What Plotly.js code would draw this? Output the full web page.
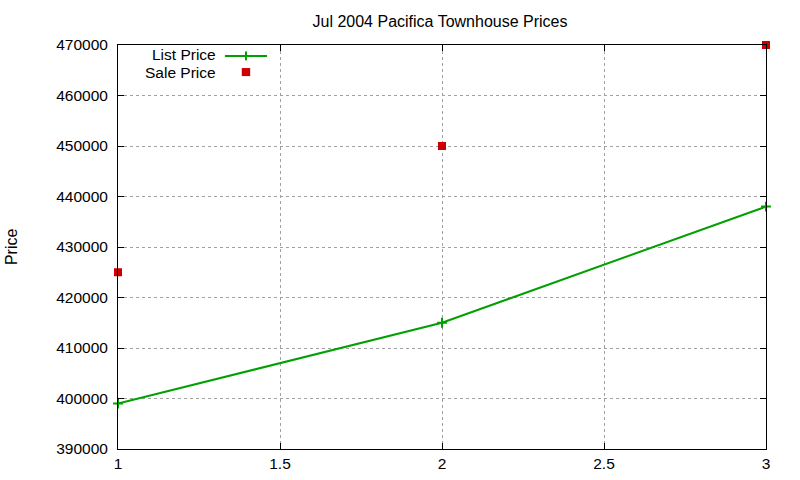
<!DOCTYPE html>
<html>
<head>
<meta charset="utf-8">
<script src="https://cdn.plot.ly/plotly-3.0.1.min.js"></script>
<style>
  html, body { margin: 0; padding: 0; background: #fff; }
  #chart { width: 800px; height: 480px; }
</style>
</head>
<body>
<div id="chart"></div>
<script>
// data
const xs = [1, 2, 3];
const listPrice = [399000, 415000, 438000];
const salePrice = [425000, 450000, 470000];

const FONT = "Liberation Sans, Arial, sans-serif";
const GREEN = "#00a000";
const RED = "#cc0000";

const traces = [
  {
    x: xs,
    y: listPrice,
    name: "List Price",
    mode: "lines+markers",
    line: { color: GREEN, width: 2 },
    marker: { symbol: "cross-thin", size: 7, line: { color: GREEN, width: 2 } },
    cliponaxis: false,
    showlegend: false,
  },
  {
    x: xs,
    y: salePrice,
    name: "Sale Price",
    mode: "markers",
    marker: { symbol: "square", size: 8, color: RED },
    cliponaxis: false,
    showlegend: false,
  },
];

const axisCommon = {
  showline: true,
  linecolor: "#000",
  linewidth: 1,
  mirror: "ticks",
  ticks: "inside",
  ticklen: 6,
  tickcolor: "#000",
  showgrid: true,
  gridcolor: "#a0a0a0",
  griddash: "dot",
  gridwidth: 1,
  zeroline: false,
  tickfont: { family: FONT, size: 15.5, color: "#000" },
};

const keyFont = { family: FONT, size: 15.5, color: "#000" };

const layout = {
  width: 800,
  height: 480,
  margin: { l: 118, r: 34, t: 45, b: 31 },
  paper_bgcolor: "#fff",
  plot_bgcolor: "#fff",
  font: { family: FONT, color: "#000" },
  title: {
    text: "Jul 2004 Pacifica Townhouse Prices",
    font: { family: FONT, size: 16, color: "#000" },
    x: 0.55,
    xanchor: "center",
    y: 0.955,
    yanchor: "middle",
  },
  xaxis: Object.assign({}, axisCommon, {
    range: [1, 3],
    dtick: 0.5,
    tick0: 1,
  }),
  yaxis: Object.assign({}, axisCommon, {
    range: [390000, 470000],
    dtick: 10000,
    tickformat: "d",
    ticklabelstandoff: 6,
  }),
  annotations: [
    {
      text: "Price",
      xref: "paper", yref: "paper",
      x: -0.165, y: 0.5,
      xanchor: "center", yanchor: "middle",
      textangle: -90,
      showarrow: false,
      font: { family: FONT, size: 16, color: "#000" },
    },
    // key, gnuplot style: text right-aligned, sample on the right
    {
      text: "List Price",
      xref: "paper", yref: "paper",
      x: 0.153, y: 0.977,
      xanchor: "right", yanchor: "middle",
      height: 15, borderpad: 0,
      showarrow: false,
      font: keyFont,
    },
    {
      text: "Sale Price",
      xref: "paper", yref: "paper",
      x: 0.153, y: 0.932,
      xanchor: "right", yanchor: "middle",
      height: 15, borderpad: 0,
      showarrow: false,
      font: keyFont,
    },
  ],
  shapes: [
    {
      type: "line", xref: "paper", yref: "paper",
      x0: 0.165, x1: 0.230, y0: 0.973, y1: 0.973,
      line: { color: GREEN, width: 2 },
    },
    {
      type: "line", xref: "paper", yref: "paper",
      x0: 0.1975, x1: 0.1975, y0: 0.962, y1: 0.984,
      line: { color: GREEN, width: 2 },
    },
    {
      type: "rect", xref: "paper", yref: "paper",
      x0: 0.191, x1: 0.204, y0: 0.923, y1: 0.943,
      fillcolor: RED, line: { width: 0 },
    },
  ],
};

Plotly.newPlot("chart", traces, layout, { displayModeBar: false, staticPlot: true });
</script>
</body>
</html>
